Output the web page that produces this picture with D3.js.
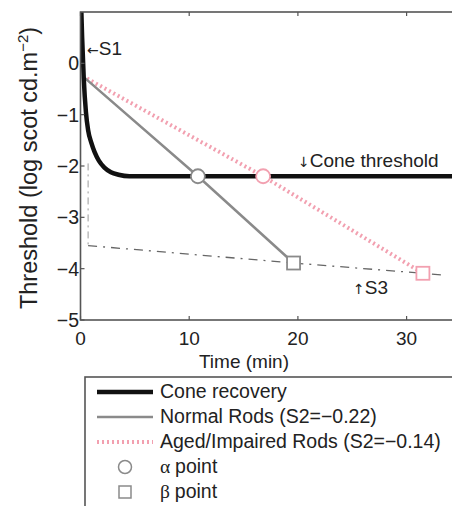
<!DOCTYPE html>
<html>
<head>
<meta charset="utf-8">
<script src="https://cdnjs.cloudflare.com/ajax/libs/d3/7.8.5/d3.min.js"></script>
<style>
  body { margin: 0; background: #fff; }
  text { font-family: "Liberation Sans", Arial, sans-serif; fill: #222; }
</style>
</head>
<body>
<svg id="chart"></svg>
<script>
// data
var coneTime = [0.05, 0.15, 0.3, 0.5, 0.7, 1.0, 1.3, 1.7, 2.2, 2.8, 3.5, 4.5, 35];
var coneThr  = [1.2, 0.5, -0.3, -0.95, -1.3, -1.55, -1.73, -1.9, -2.03, -2.12, -2.17, -2.2, -2.2];

var normalTime = [0.2, 10.8, 19.6];
var normalThr  = [-0.25, -2.2, -3.89];

var agedTime = [0.2, 16.8, 31.5];
var agedThr  = [-0.25, -2.2, -4.09];

var s3Time = [0.7, 19.6, 31.5, 33.2];
var s3Thr  = [-3.55, -3.89, -4.09, -4.12];

var vertTime = [0.7, 0.7];
var vertThr  = [-1.95, -3.55];

var xTicks = [0, 10, 20, 30];
var yTicks = [0, -1, -2, -3, -4, -5];

var legendLabels = ["Cone recovery", "Normal Rods (S2=\u22120.22)",
  "Aged/Impaired Rods (S2=\u22120.14)", "point", "point"];

function pts(t, v) { return t.map(function(d, i) { return [d, v[i]]; }); }

var width = 452, height = 506;
var svg = d3.select("#chart").attr("width", width).attr("height", height);

var x = d3.scaleLinear().domain([0, 35]).range([80.5, 80.5 + 10.87 * 35]);
var y = d3.scaleLinear().domain([-5, 1]).range([320, 12]);

var line = d3.line().x(function(d) { return x(d[0]); }).y(function(d) { return y(d[1]); });

svg.append("clipPath").attr("id", "plot")
  .append("rect").attr("x", x(0)).attr("y", y(1))
  .attr("width", x(35) - x(0)).attr("height", y(-5) - y(1));

var pinkC = "#f2a0b0", grayC = "#8a8a8a";

// curves
var g = svg.append("g").attr("clip-path", "url(#plot)");

g.append("path").datum(pts(vertTime, vertThr))
  .attr("d", line).attr("fill", "none").attr("stroke", "#999")
  .attr("stroke-width", 1).attr("stroke-dasharray", "7,4,2,4");

g.append("path").datum(pts(s3Time, s3Thr))
  .attr("d", line).attr("fill", "none").attr("stroke", "#666")
  .attr("stroke-width", 1.3).attr("stroke-dasharray", "9,6,2,6");

g.append("path").datum(pts(agedTime, agedThr))
  .attr("d", line).attr("fill", "none").attr("stroke", pinkC)
  .attr("stroke-width", 4).attr("stroke-dasharray", "2,3");

g.append("path").datum(pts(normalTime, normalThr))
  .attr("d", line).attr("fill", "none").attr("stroke", grayC)
  .attr("stroke-width", 2.5);

g.append("path").datum(pts(coneTime, coneThr))
  .attr("d", line.curve(d3.curveMonotoneX)).attr("fill", "none").attr("stroke", "#111")
  .attr("stroke-width", 4.5);
line.curve(d3.curveLinear);

// alpha points (circles) and beta points (squares)
var alphaPts = [[normalTime[1], normalThr[1], grayC], [agedTime[1], agedThr[1], pinkC]];
var betaPts = [[normalTime[2], normalThr[2], grayC], [agedTime[2], agedThr[2], pinkC]];

g.selectAll(".alpha").data(alphaPts).enter().append("circle")
  .attr("cx", function(d) { return x(d[0]); })
  .attr("cy", function(d) { return y(d[1]); })
  .attr("r", 7).attr("fill", "#fff")
  .attr("stroke", function(d) { return d[2]; }).attr("stroke-width", 1.8);

g.selectAll(".beta").data(betaPts).enter().append("rect")
  .attr("x", function(d) { return x(d[0]) - 6.5; })
  .attr("y", function(d) { return y(d[1]) - 6.5; })
  .attr("width", 13).attr("height", 13).attr("fill", "#fff")
  .attr("stroke", function(d) { return d[2]; }).attr("stroke-width", 1.8);

// axes box
svg.append("rect").attr("x", x(0)).attr("y", y(1))
  .attr("width", x(35) - x(0)).attr("height", y(-5) - y(1))
  .attr("fill", "none").attr("stroke", "#555").attr("stroke-width", 1.6);

xTicks.forEach(function(t) {
  svg.append("line").attr("x1", x(t)).attr("x2", x(t)).attr("y1", y(-5)).attr("y2", y(-5) - 4)
    .attr("stroke", "#555").attr("stroke-width", 1.2);
  svg.append("line").attr("x1", x(t)).attr("x2", x(t)).attr("y1", y(1)).attr("y2", y(1) + 4)
    .attr("stroke", "#555").attr("stroke-width", 1.2);
  svg.append("text").attr("x", x(t)).attr("y", 345).attr("text-anchor", "middle")
    .style("font-size", "19px").text(t);
});

yTicks.forEach(function(v) {
  svg.append("line").attr("x1", x(0)).attr("x2", x(0) + 4).attr("y1", y(v)).attr("y2", y(v))
    .attr("stroke", "#555").attr("stroke-width", 1.2);
  svg.append("text").attr("x", 79).attr("y", y(v) + 7).attr("text-anchor", "end")
    .style("font-size", "19.5px").text(v < 0 ? "\u2212" + Math.abs(v) : v);
});

// axis labels
svg.append("text").attr("x", 244).attr("y", 368).attr("text-anchor", "middle")
  .style("font-size", "19px").text("Time (min)");

var yl = svg.append("text").attr("transform", "translate(37,168) rotate(-90)")
  .attr("text-anchor", "middle").style("font-size", "23.5px");
yl.append("tspan").text("Threshold (log scot cd.m");
yl.append("tspan").attr("dy", -9).style("font-size", "15px").text("\u22122");
yl.append("tspan").attr("dy", 9).text(")");

// annotations, arrows drawn with DejaVu glyphs
function note(px, py, arrow, label) {
  var t = svg.append("text").attr("x", px).attr("y", py).style("font-size", "19px");
  t.append("tspan").style("font-family", "'DejaVu Sans', sans-serif").style("font-size", "14px").text(arrow);
  t.append("tspan").text(label);
}
note(87, 55, "\u2190", "S1");
note(298, 167, "\u2193", "Cone threshold");
note(353, 294, "\u2191", "S3");

// legend
svg.append("rect").attr("x", 85).attr("y", 377).attr("width", 400).attr("height", 160)
  .attr("fill", "#fff").attr("stroke", "#555").attr("stroke-width", 1.6);

var rowY = [392, 417, 442, 467, 492];
svg.append("line").attr("x1", 97).attr("x2", 153).attr("y1", rowY[0]).attr("y2", rowY[0])
  .attr("stroke", "#111").attr("stroke-width", 4.5);
svg.append("line").attr("x1", 97).attr("x2", 153).attr("y1", rowY[1]).attr("y2", rowY[1])
  .attr("stroke", grayC).attr("stroke-width", 2.5);
svg.append("line").attr("x1", 97).attr("x2", 153).attr("y1", rowY[2]).attr("y2", rowY[2])
  .attr("stroke", pinkC).attr("stroke-width", 4).attr("stroke-dasharray", "2,3");
svg.append("circle").attr("cx", 125).attr("cy", rowY[3]).attr("r", 6.5)
  .attr("fill", "#fff").attr("stroke", grayC).attr("stroke-width", 1.5);
svg.append("rect").attr("x", 119).attr("y", rowY[4] - 6).attr("width", 12).attr("height", 12)
  .attr("fill", "#fff").attr("stroke", grayC).attr("stroke-width", 1.5);

legendLabels.forEach(function(l, i) {
  var t = svg.append("text").attr("x", 160).attr("y", rowY[i] + 6).style("font-size", "19.5px");
  if (i == 3) t.append("tspan").style("font-family", "'Liberation Serif', serif").text("\u03b1 ");
  if (i == 4) t.append("tspan").style("font-family", "'Liberation Serif', serif").text("\u03b2 ");
  t.append("tspan").text(l);
});
</script>
</body>
</html>
